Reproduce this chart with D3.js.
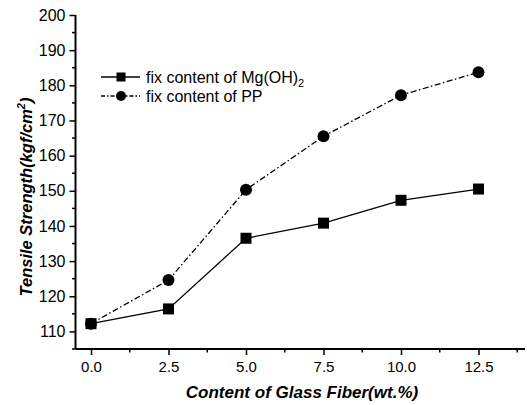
<!DOCTYPE html>
<html>
<head>
<meta charset="utf-8">
<script src="https://cdn.jsdelivr.net/npm/d3@7"></script>
<style>
  body { margin: 0; background: #fff; }
  svg { display: block; font-family: "Liberation Sans", Arial, sans-serif; }
</style>
</head>
<body>
<div id="chart"></div>
<script>
// Data
const fiberContent = [0, 2.5, 5.0, 7.5, 10.0, 12.5];
const mgFixed = [112.2, 116.4, 136.5, 140.8, 147.3, 150.5];
const ppFixed = [112.2, 124.6, 150.3, 165.5, 177.2, 183.7];
const xTicks = [0, 2.5, 5.0, 7.5, 10.0, 12.5];
const yTicks = [110, 120, 130, 140, 150, 160, 170, 180, 190, 200];

const width = 527, height = 405;
const margin = { top: 15, right: 2, bottom: 56, left: 75.5 };

const svg = d3.select('#chart')
  .append('svg')
  .attr('width', width)
  .attr('height', height);

// Scales
const xScale = d3.scaleLinear()
  .domain([-0.5, 14])
  .range([margin.left, width - margin.right]);

const yScale = d3.scaleLinear()
  .domain([105, 200])
  .range([height - margin.bottom, margin.top]);

const axisY0 = height - margin.bottom;

// Minor ticks
const xMinor = d3.range(0, 14.01, 1.25).filter(v => xTicks.indexOf(v) < 0);
const yMinor = d3.range(105, 200, 5).filter(v => yTicks.indexOf(v) < 0);

// x axis
const xAxis = svg.append('g')
  .attr('transform', `translate(0,${axisY0})`)
  .call(d3.axisBottom(xScale).tickValues(xTicks).tickFormat(d3.format('.1f')).tickSize(6).tickPadding(6));
xAxis.select('.domain').attr('d', `M${xScale(-0.5)},0H${xScale(14)}`).attr('stroke-width', 2);
xAxis.selectAll('.tick line').attr('stroke-width', 1.5);
xAxis.selectAll('text').style('font-size', '15px').attr('fill', '#000');

svg.append('g')
  .selectAll('line')
  .data(xMinor)
  .enter()
  .append('line')
  .attr('x1', d => xScale(d)).attr('x2', d => xScale(d))
  .attr('y1', axisY0).attr('y2', axisY0 + 3.5)
  .attr('stroke', '#000').attr('stroke-width', 1.5);

// y axis
const yAxis = svg.append('g')
  .attr('transform', `translate(${margin.left},0)`)
  .call(d3.axisLeft(yScale).tickValues(yTicks).tickSize(6).tickPadding(4));
yAxis.select('.domain').attr('d', `M0,${yScale(200)}V${yScale(105)}`).attr('stroke-width', 2);
yAxis.selectAll('.tick line').attr('stroke-width', 1.5);
yAxis.selectAll('text').style('font-size', '16px').attr('fill', '#000');

svg.append('g')
  .selectAll('line')
  .data(yMinor)
  .enter()
  .append('line')
  .attr('x1', margin.left - 3.5).attr('x2', margin.left)
  .attr('y1', d => yScale(d)).attr('y2', d => yScale(d))
  .attr('stroke', '#000').attr('stroke-width', 1.5);

// Lines
const line = d3.line()
  .x(d => xScale(d[0]))
  .y(d => yScale(d[1]));

const mgData = fiberContent.map((x, i) => [x, mgFixed[i]]);
const ppData = fiberContent.map((x, i) => [x, ppFixed[i]]);

svg.append('path')
  .datum(mgData)
  .attr('d', line)
  .attr('fill', 'none')
  .attr('stroke', '#000')
  .attr('stroke-width', 1.3);

svg.append('path')
  .datum(ppData)
  .attr('d', line)
  .attr('fill', 'none')
  .attr('stroke', '#000')
  .attr('stroke-width', 1.3)
  .attr('stroke-dasharray', '6,2.5,1.5,2.5');

// Markers
svg.selectAll('.sq')
  .data(mgData)
  .enter()
  .append('rect')
  .attr('class', 'sq')
  .attr('x', d => xScale(d[0]) - 5.5)
  .attr('y', d => yScale(d[1]) - 5.5)
  .attr('width', 11)
  .attr('height', 11)
  .attr('fill', '#000');

svg.selectAll('.ci')
  .data(ppData)
  .enter()
  .append('circle')
  .attr('class', 'ci')
  .attr('cx', d => xScale(d[0]))
  .attr('cy', d => yScale(d[1]))
  .attr('r', 6)
  .attr('fill', '#000');

// Legend
const legend = svg.append('g');
const lx1 = 101, lx2 = 140, lmx = 121;
const ly1 = 77, ly2 = 96;

legend.append('line')
  .attr('x1', lx1).attr('x2', lx2).attr('y1', ly1).attr('y2', ly1)
  .attr('stroke', '#000').attr('stroke-width', 1.3);
legend.append('rect')
  .attr('x', lmx - 4.5).attr('y', ly1 - 4.5).attr('width', 9).attr('height', 9)
  .attr('fill', '#000');
legend.append('text')
  .attr('x', 146).attr('y', ly1 + 5.5)
  .style('font-size', '16px')
  .html('fix content of Mg(OH)<tspan dy="4" style="font-size:11px">2</tspan>');

legend.append('line')
  .attr('x1', lx1).attr('x2', lx2).attr('y1', ly2).attr('y2', ly2)
  .attr('stroke', '#000').attr('stroke-width', 1.3)
  .attr('stroke-dasharray', '4,2,1.5,2');
legend.append('circle')
  .attr('cx', lmx).attr('cy', ly2).attr('r', 5)
  .attr('fill', '#000');
legend.append('text')
  .attr('x', 146).attr('y', ly2 + 5.5)
  .style('font-size', '16px')
  .text('fix content of PP');

// Axis titles
svg.append('text')
  .attr('x', 302)
  .attr('y', 398)
  .attr('text-anchor', 'middle')
  .style('font-size', '17px')
  .style('font-weight', 'bold')
  .style('font-style', 'italic')
  .text('Content of Glass Fiber(wt.%)');

svg.append('text')
  .attr('transform', 'translate(32,197) rotate(-90)')
  .attr('text-anchor', 'middle')
  .style('font-size', '16.5px')
  .style('font-weight', 'bold')
  .style('font-style', 'italic')
  .html('Tensile Strength(kgf/cm<tspan dy="-7" style="font-size:11px">2</tspan><tspan dy="7">)</tspan>');
</script>
</body>
</html>
